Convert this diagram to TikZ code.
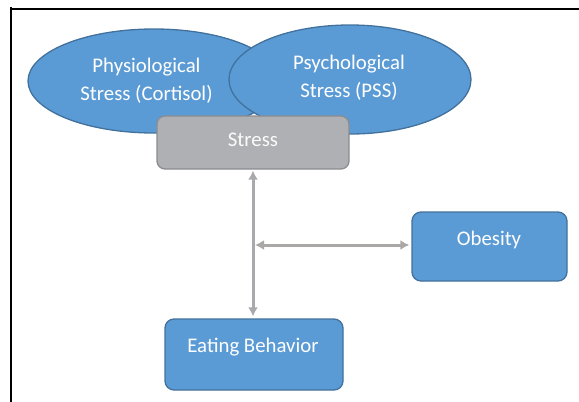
\documentclass[tikz,border=0pt]{standalone}
\usepackage{fontspec}
\setmainfont{Carlito}
\usetikzlibrary{shapes.geometric,arrows.meta}
\definecolor{boxblue}{HTML}{5B9BD5}
\definecolor{boxblueline}{HTML}{41719C}
\definecolor{stressfill}{HTML}{AFB0B3}
\definecolor{stressline}{HTML}{8B8C8F}
\definecolor{arrowgray}{HTML}{A9A9AC}
\definecolor{arrowgray2}{HTML}{ABA7A7}
\tikzset{
  oval/.style={ellipse, draw=boxblueline, fill=boxblue, line width=1.3pt, inner sep=0pt},
  bluebox/.style={rectangle, rounded corners=9pt, draw=boxblueline, fill=boxblue, line width=1.3pt, inner sep=0pt},
  graybox/.style={rectangle, rounded corners=8pt, draw=stressline, fill=stressfill, line width=1.3pt, inner sep=0pt},
  lbl/.style={text=white, align=center, inner sep=0pt, font=\fontsize{20.8}{28}\selectfont},
  conn/.style={line width=3pt, {Latex[length=9pt,width=10pt]}-{Latex[length=9pt,width=10pt]}},
  frameline/.style={black, line width=2.6pt}
}
\begin{document}
\begin{tikzpicture}[x=1pt,y=-1pt]
\useasboundingbox (0,0) rectangle (579,402);
% frame
\draw[frameline] (11,402) -- (11,7);
\draw[frameline] (10,9) -- (579,9);
% ellipses
\node[oval, minimum width=252pt, minimum height=104pt] (phys) at (154,81) {};
\node[oval, minimum width=242pt, minimum height=109pt] (psych) at (350,79.5) {};
\node[lbl] (physt) at (146.5,81) {Physiological\\Stress (Cortisol)};
\node[lbl] (psycht) at (349,77.5) {Psychological\\Stress (PSS)};
% stress box
\node[graybox, minimum width=192pt, minimum height=53pt] (stress) at (253,142.5) {};
\node[lbl, text=white!95!stressfill] (stresst) at (253,140) {Stress};
% obesity
\node[bluebox, minimum width=155pt, minimum height=69pt] (obesity) at (489.5,246.5) {};
\node[lbl] (obesityt) at (489,240) {Obesity};
% eating behavior
\node[bluebox, minimum width=178pt, minimum height=71pt] (eating) at (254,354.5) {};
\node[lbl] (eatingt) at (253,347) {Eating Behavior};
% connectors
\draw[conn, arrowgray, shorten <=1pt, shorten >=2pt] (stress.south -| 253,0) -- (eating.north -| 253,0);
\coordinate (junction) at (255,245);
\draw[conn, arrowgray2, shorten >=2pt] (junction) -- (obesity.west |- junction);
\end{tikzpicture}
\end{document}
